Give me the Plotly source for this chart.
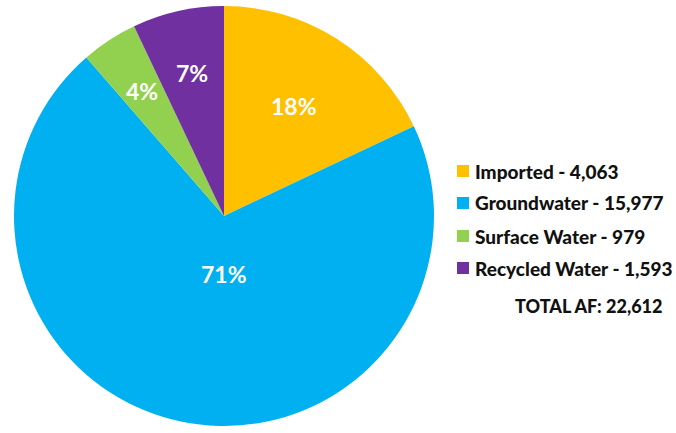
import math
import plotly.graph_objects as go

# Water supply sources (acre-feet)
labels = ["Imported", "Groundwater", "Surface Water", "Recycled Water"]
values = [4063, 15977, 979, 1593]
colors = ["#FFC000", "#00B0F0", "#92D050", "#7030A0"]
# how far out (fraction of radius) each percentage label sits
label_radius = [0.62, 0.28, 0.71, 0.70]
# horizontal nudge (px) for each percentage label
label_xshift = [0, 12, 0, 0]

total = sum(values)
W, H = 676, 433
cx, cy, R = 224, 216, 210

fig = go.Figure()
fig.add_trace(go.Pie(
    labels=labels,
    values=values,
    sort=False,
    direction="clockwise",
    rotation=0,
    marker=dict(colors=colors, line=dict(width=0)),
    textinfo="none",
    showlegend=False,
    hoverinfo="label+value+percent",
    domain=dict(x=[(cx - R) / W, (cx + R) / W], y=[1 - (cy + R) / H, 1 - (cy - R) / H]),
))

# Percentage labels at each slice's mid-angle (clockwise from 12 o'clock)
cum = 0
for v, rf, xs in zip(values, label_radius, label_xshift):
    mid = (cum + v / 2) / total * 2 * math.pi
    cum += v
    px = cx + rf * R * math.sin(mid)
    py = cy - rf * R * math.cos(mid)
    fig.add_annotation(xref="paper", yref="paper", x=px / W, y=1 - py / H,
                       xanchor="center", yanchor="middle", showarrow=False,
                       xshift=xs,
                       text=f"<b>{round(100 * v / total)}%</b>",
                       font=dict(family="Lato", size=23, color="white"))

# Custom legend: colored squares with label and value
row_y = [171, 203, 236, 268]
for lab, val, col, yy in zip(labels, values, colors, row_y):
    fig.add_shape(type="rect", xref="paper", yref="paper",
                  x0=457 / W, x1=469 / W,
                  y0=1 - (yy + 6) / H, y1=1 - (yy - 6) / H,
                  fillcolor=col, line=dict(width=0))
    fig.add_annotation(xref="paper", yref="paper",
                       x=473 / W, y=1 - yy / H,
                       xanchor="left", yanchor="middle",
                       text=f"{lab} - {val:,}", showarrow=False,
                       font=dict(family="Lato", size=19, weight=900, color="#111111"))

fig.add_annotation(xref="paper", yref="paper",
                   x=664 / W, y=1 - 306 / H,
                   xanchor="right", yanchor="middle",
                   text=f"TOTAL AF: {total:,}", showarrow=False,
                   font=dict(family="Lato", size=18, weight=900, color="#111111"))

fig.update_layout(
    width=W, height=H,
    margin=dict(l=0, r=0, t=0, b=0),
    paper_bgcolor="white",
    plot_bgcolor="white",
)

fig.write_html("out.html")
